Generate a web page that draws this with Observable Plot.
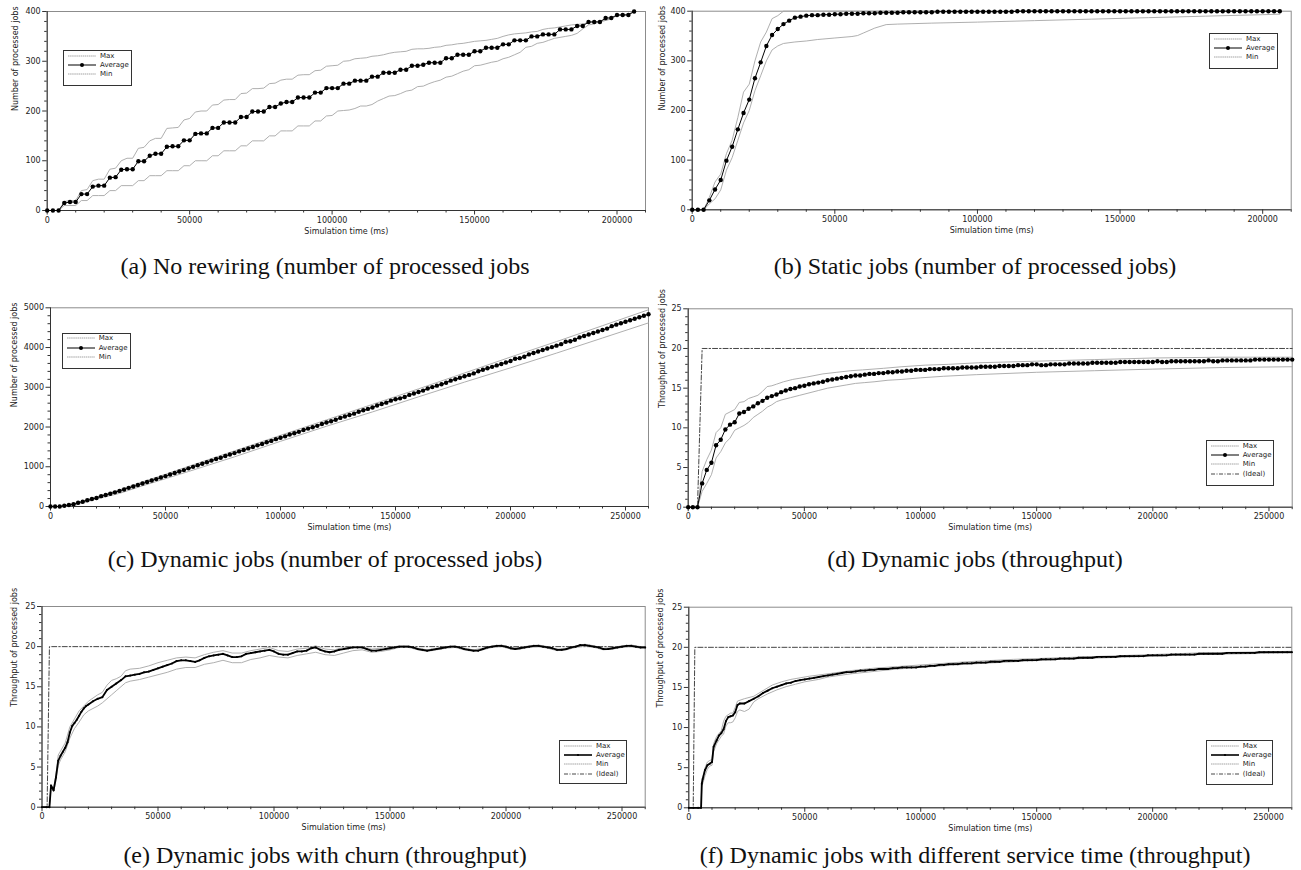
<!DOCTYPE html>
<html><head><meta charset="utf-8">
<script src="https://cdn.jsdelivr.net/npm/d3@7"></script>
<script src="https://cdn.jsdelivr.net/npm/@observablehq/plot@0.6"></script>
<style>
body{margin:0;background:#fff;}
#root{position:relative;width:1301px;height:870px;overflow:hidden;background:#fff;font-family:"DejaVu Sans",sans-serif;}
.panel{position:absolute;}
.cap{position:absolute;font-family:"Liberation Serif",serif;font-size:24px;white-space:nowrap;transform:translate(-50%,-50%);color:#111;line-height:1.1;}
.legend{position:absolute;border:1px solid #333;background:#fff;font-size:7px;color:#222;box-sizing:border-box;}
.legend .row{position:absolute;left:4px;height:8px;display:flex;align-items:center;}
.legend .row span{margin-left:4px;line-height:8px;}
</style></head><body><div id="root"></div><script>
// ---- data (t index step 2000 ms for regular arrays; pairs are [time in 1000 ms, value]) ----
const aAvg = [0,0,0,15,17,17,33,33,48,50, 50,66,67,82,83,83,99,99,110,114, 114,128,129,129,141,141,154,155,155,166,
  166,177,177,177,188,188,199,199,199,208, 208,215,218,218,227,227,227,237,237,246, 246,246,255,255,261,261,261,269,269,277,
  277,277,283,283,291,291,293,297,297,297, 306,306,313,313,313,320,320,327,327,327, 334,334,342,342,342,350,350,354,354,354,
  364,364,364,371,371,379,379,379,387,387, 393,393,393,400];
const aMax = [0,0,0,18,20,20,40,42,60,63, 63,83,85,100,105,105,125,127,140,145, 145,165,166,167,182,185,198,200,200,212,
  213,222,223,223,235,236,245,245,246,255, 256,262,264,264,272,273,273,281,282,290, 291,292,300,301,305,306,307,310,311,313,
  316,318,319,320,324,325,325,326,328,329, 332,333,335,336,338,340,341,342,344,346, 350,353,355,356,357,359,360,364,366,367,
  369,371,373,374,375,378,379,381,382,385, 392,393,394,400];
const aMin = [0,0,0,10,10,10,20,20,30,30, 30,40,40,50,50,50,60,60,70,70, 70,80,80,80,90,90,100,100,100,110,
  110,120,120,120,130,130,140,140,140,150, 150,160,160,160,170,170,170,180,180,190, 191,200,201,202,205,210,210,213,220,225,
  230,231,235,240,242,249,250,255,259,262, 268,270,275,280,283,291,292,295,298,300, 305,308,313,318,328,330,336,338,342,346,
  348,350,352,356,365,373,375,379,382,387, 392,393,395,400];

const bAvg = [0,0,0,19,41,60,99,127,162,195, 222,265,297,330,352,364,374,381,387,389, 391,392,392,393,393,394,394,395,395,395,
  396,396,396,397,397,397,397,398,398,398, 398,398,398,399,399,399,399,399,399,399, 399,399,399,399,399,399,399,400,400,400,
  400,400,400,400,400,400,400,400,400,400, 400,400,400,400,400,400,400,400,400,400, 400,400,400,400,400,400,400,400,400,400,
  400,400,400,400,400,400,400,400,400,400, 400,400,400,400];
const bMax = [[0,0],[4,0],[6,25],[8,56],[10,72],[12,113],[14,140],[16,186],[18,237],[20,253],[22,300],[24,338],[26,358],[28,385],[30,391],[32,400],[206,400]];
const bMin = [[0,0],[4,0],[6,12],[8,22],[10,40],[12,80],[14,105],[16,140],[18,175],[20,200],[22,240],[24,270],[26,300],[28,322],[30,330],[32,335],[36,338],[40,340],[44,343],[50,346],[56,349],[58,351],[60,356],[64,366],[68,373],[72,374],[84,376],[100,378],[120,381],[140,384],[160,387],[180,390],[200,393],[206,394]];

const cAvg = [0,0,0,18,38,56,94,119,157,187, 214,260,288,322,356,393,429,469,504,540, 580,617,656,690,730,765,806,842,879,916,
  960,998,1037,1076,1115,1155,1195,1228,1269,1310, 1344,1386,1420,1462,1496,1539,1573,1617,1651,1695,
  1730,1765,1810,1844,1879,1925,1960,1995,2030,2077, 2112,2147,2182,2230,2266,2301,2336,2385,2421,2456,
  2492,2542,2578,2613,2664,2700,2721,2757,2808,2844, 2880,2916,2968,3005,3041,3077,3113,3167,3203,3240,
  3276,3312,3349,3404,3440,3477,3514,3550,3587,3623, 3660,3717,3733,3770,3827,3864,3901,3938,3974,4011,
  4048,4085,4144,4158,4195,4255,4292,4329,4366,4403, 4440,4477,4538,4576,4613,4650,4687,4724,4762,4799, 4836];
const cMax = [[0,0],[4,0],[6,30],[10,70],[20,245],[30,420],[40,620],[50,810],[60,1010],[80,1400],[100,1790],[120,2180],[140,2570],[160,2960],[180,3360],[200,3760],[220,4150],[240,4550],[260,4950]];
const cMin = [[0,0],[6,0],[10,20],[20,190],[30,330],[40,520],[50,700],[60,880],[80,1250],[100,1640],[120,2020],[140,2380],[160,2760],[180,3130],[200,3490],[220,3860],[240,4240],[260,4620]];

const dAvg = [0,0,0,3.0,4.7,5.6,7.8,8.5,9.8,10.4, 10.7,11.8,12.0,12.4,12.7,13.1,13.4,13.8,14.0,14.2,
  14.5,14.7,14.9,15.0,15.2,15.3,15.5,15.6,15.7,15.8, 16.0,16.1,16.2,16.3,16.4,16.5,16.6,16.6,16.7,16.8,
  16.8,16.9,16.9,17.0,17.0,17.1,17.1,17.2,17.2,17.3, 17.3,17.3,17.4,17.4,17.4,17.5,17.5,17.5,17.5,17.6,
  17.6,17.6,17.6,17.7,17.7,17.7,17.7,17.8,17.8,17.8, 17.8,17.9,17.9,17.9,18.0,18.0,17.9,17.9,18.0,18.0,
  18.0,18.0,18.1,18.1,18.1,18.1,18.1,18.2,18.2,18.2, 18.2,18.2,18.2,18.3,18.3,18.3,18.3,18.3,18.3,18.3,
  18.3,18.4,18.3,18.3,18.4,18.4,18.4,18.4,18.4,18.4, 18.4,18.4,18.5,18.4,18.4,18.5,18.5,18.5,18.5,18.5,
  18.5,18.5,18.6,18.6,18.6,18.6,18.6,18.6,18.6,18.6, 18.6];
const dMax = [[0,0],[4,0],[6,4.5],[8,6.0],[10,7.2],[12,9.4],[14,10.0],[16,11.7],[18,12.0],[20,12.3],[22,13.2],[24,13.3],[26,13.7],[28,13.9],[30,14.1],[32,14.6],[34,15.2],[36,15.3],[38,15.5],[41,15.8],[45,16.1],[51,16.4],[58,16.8],[64,17.0],[70,17.2],[75,17.3],[84,17.5],[92,17.7],[102,17.9],[112,18.0],[125,18.2],[150,18.4],[175,18.6],[200,18.8],[230,18.9],[260,18.9]];
const dMin = [[0,0],[4,0],[6,2.0],[8,3.0],[10,4.1],[12,6.2],[14,7.0],[16,8.1],[18,8.7],[20,9.7],[22,10.0],[24,10.3],[26,10.7],[28,11.3],[30,11.7],[32,12.1],[34,12.6],[36,12.9],[38,13.3],[40,13.5],[44,13.8],[48,14.1],[52,14.4],[56,14.7],[60,15.0],[64,15.2],[68,15.4],[72,15.6],[76,15.7],[80,15.8],[86,16.0],[92,16.1],[100,16.3],[110,16.5],[124,16.7],[150,17.0],[175,17.2],[200,17.4],[230,17.6],[260,17.7]];
const dIdeal = [[0,0],[4,0],[6,20],[260,20]];

const eAvg = [[0,0],[2,0],[3.2,0],[3.9,2.7],[5,2.1],[6,3.7],[7,5.8],[8,6.4],[9,6.9],[10,7.4],[11,8.1],[12,9.3],[13,10.1],[14,10.5],[15,10.9],[16,11.4],[17,11.9],[18,12.3],[19,12.6],[20,12.8],[22,13.2],[24,13.5],[26,13.7],[28,14.6],[30,15.0],[32,15.4],[34,15.8],[36,16.3],[38,16.4],[40,16.5],[42,16.6],[44,16.8],[46,16.9],[48,17.1],[50,17.3],[52,17.5],[54,17.7],[56,17.9],[58,18.2],[60,18.3],[62,18.3],[64,18.2],[66,18.1],[68,18.3],[70,18.6],[72,18.8],[74,18.9],[76,19.0],[78,19.1],[80,18.9],[82,18.7],[84,18.7],[86,18.8],[88,19.1],[90,19.2],[92,19.3],[94,19.4],[96,19.5],[98,19.6],[100,19.4],[102,19.1],[104,19.0],[106,19.0],[108,19.2],[110,19.4],[112,19.4],[114,19.5],[116,19.8],[118,19.9],[120,19.6],[122,19.4],[124,19.3],[126,19.4],[128,19.6],[130,19.7],[132,19.8],[134,19.9],[136,19.9],[138,19.9],[140,19.7],[142,19.5],[144,19.5],[146,19.6],[148,19.7],[150,19.8],[152,19.9],[154,20.0],[156,20.0],[158,20.0],[160,19.9],[162,19.7],[164,19.6],[166,19.5],[168,19.6],[170,19.7],[172,19.8],[174,19.9],[176,20.0],[178,20.0],[180,19.9],[182,19.7],[184,19.6],[186,19.5],[188,19.5],[190,19.7],[192,19.9],[194,20.0],[196,20.1],[198,20.1],[200,20.0],[202,19.8],[204,19.7],[206,19.8],[208,19.9],[210,20.0],[212,20.1],[214,20.1],[216,20.0],[218,19.9],[220,19.8],[222,19.6],[224,19.6],[226,19.7],[228,19.9],[230,20.0],[232,20.2],[234,20.2],[236,20.1],[238,20.0],[240,19.9],[242,19.7],[244,19.7],[246,19.8],[248,19.9],[250,20.0],[252,20.1],[254,20.1],[256,20.0],[258,19.9],[260,19.9]];
const eMax = [[0,0],[3.2,0],[3.9,2.8],[5,2.3],[6,4.0],[7,6.5],[8,7.0],[10,8.0],[12,10.0],[14,11.0],[16,12.0],[18,12.6],[20,13.2],[24,14.0],[26,14.3],[28,15.2],[30,15.8],[32,16.0],[34,16.3],[36,17.0],[38,17.2],[42,17.3],[46,17.6],[50,18.0],[54,18.3],[58,18.6],[62,18.7],[66,18.6],[70,19.0],[74,19.3],[78,19.5],[82,19.2],[86,19.2],[90,19.5],[94,19.7],[98,19.9],[102,19.5],[106,19.4],[110,19.7],[114,19.8],[118,20.1],[122,19.7],[126,19.6],[130,19.9],[134,20.0],[138,20.0],[142,19.7],[146,19.8],[150,19.9],[154,20.1],[158,20.1],[162,19.8],[166,19.6],[170,19.8],[174,20.0],[178,20.1],[182,19.8],[186,19.6],[190,19.8],[194,20.1],[198,20.2],[202,19.9],[206,19.9],[210,20.1],[214,20.2],[218,20.0],[222,19.7],[226,19.8],[230,20.1],[234,20.3],[238,20.1],[242,19.8],[246,19.9],[250,20.1],[254,20.2],[258,20.0],[260,20.0]];
const eMin = [[0,0],[3.2,0],[3.9,2.5],[5,1.9],[6,3.3],[7,5.2],[8,5.9],[10,6.9],[12,8.6],[14,9.8],[16,10.6],[18,11.5],[20,12.0],[24,12.6],[26,13.0],[28,13.5],[30,14.0],[32,14.5],[34,15.0],[36,15.5],[38,15.7],[42,15.9],[46,16.2],[50,16.5],[54,16.8],[58,17.2],[62,17.4],[66,17.4],[70,17.8],[74,18.0],[78,18.3],[82,18.0],[86,18.0],[90,18.4],[94,18.6],[98,18.9],[102,18.7],[106,18.6],[110,18.9],[114,19.1],[118,19.3],[122,19.0],[126,18.9],[130,19.2],[134,19.5],[138,19.6],[142,19.3],[146,19.4],[150,19.6],[154,19.9],[158,19.9],[162,19.6],[166,19.4],[170,19.6],[174,19.8],[178,19.9],[182,19.6],[186,19.4],[190,19.6],[194,19.9],[198,20.0],[202,19.7],[206,19.7],[210,19.9],[214,20.0],[218,19.8],[222,19.5],[226,19.6],[230,19.9],[234,20.1],[238,19.9],[242,19.6],[246,19.7],[250,19.9],[254,20.0],[258,19.8],[260,19.8]];
const eIdeal = [[0,0],[2.2,0],[3.2,20],[260,20]];

const fAvg = [[0,0],[2,0],[4,0],[5.3,0],[5.6,3.0],[6,3.6],[7,4.7],[8,5.3],[9,5.5],[10,5.7],[10.7,7.6],[12,8.4],[13,9.0],[14,9.3],[15,9.8],[16,10.8],[17,11.3],[18,11.4],[19,11.5],[20,11.9],[21,12.8],[22,13.0],[24,13.0],[26,13.3],[28,13.6],[30,13.9],[32,14.3],[34,14.6],[36,14.9],[38,15.1],[40,15.3],[42,15.5],[44,15.6],[46,15.8],[48,15.9],[50,16.0],[52,16.1],[54,16.2],[56,16.3],[58,16.4],[60,16.5],[62,16.6],[64,16.7],[66,16.8],[68,16.9],[70,16.9],[72,17.0],[74,17.1],[76,17.1],[78,17.2],[80,17.2],[82,17.3],[84,17.3],[86,17.3],[88,17.4],[90,17.4],[92,17.5],[94,17.5],[96,17.5],[98,17.5],[100,17.6],[102,17.6],[104,17.7],[106,17.7],[108,17.8],[110,17.8],[112,17.9],[114,17.9],[116,17.9],[118,18.0],[120,18.0],[122,18.0],[124,18.1],[126,18.1],[128,18.1],[130,18.2],[132,18.2],[134,18.2],[136,18.3],[138,18.3],[140,18.3],[142,18.3],[144,18.4],[146,18.4],[148,18.4],[150,18.4],[152,18.5],[154,18.5],[156,18.5],[158,18.5],[160,18.6],[162,18.6],[164,18.6],[166,18.6],[168,18.7],[170,18.7],[172,18.7],[174,18.7],[176,18.8],[178,18.8],[180,18.8],[182,18.8],[184,18.8],[186,18.9],[188,18.9],[190,18.9],[192,18.9],[194,18.9],[196,18.9],[198,19.0],[200,19.0],[202,19.0],[204,19.0],[206,19.0],[208,19.1],[210,19.1],[212,19.1],[214,19.1],[216,19.1],[218,19.1],[220,19.2],[222,19.2],[224,19.2],[226,19.2],[228,19.2],[230,19.2],[232,19.3],[234,19.3],[236,19.3],[238,19.3],[240,19.3],[242,19.3],[244,19.3],[246,19.4],[248,19.4],[250,19.4],[252,19.4],[254,19.4],[256,19.4],[258,19.4],[260,19.4]];
const fMax = [[0,0],[5.3,0],[5.6,3.3],[7,5.0],[8,5.7],[9,5.9],[10,6.0],[10.7,8.0],[12,8.9],[14,9.6],[15,10.8],[16,11.4],[18,11.8],[19,11.8],[20,12.5],[21,13.3],[24,13.6],[28,13.9],[32,14.6],[36,15.3],[40,15.7],[44,16.0],[48,16.2],[52,16.4],[60,16.7],[70,17.1],[80,17.4],[90,17.6],[100,17.8],[120,18.2],[140,18.5],[160,18.7],[180,18.9],[200,19.1],[220,19.3],[240,19.4],[260,19.5]];
const fMin = [[0,0],[5.3,0],[5.6,2.6],[7,4.0],[8,4.8],[9,5.2],[10,5.3],[10.7,7.0],[12,8.0],[14,8.9],[15,9.2],[16,10.2],[17,10.6],[18,10.6],[19,10.7],[20,11.2],[21,12.0],[22,12.2],[24,12.0],[26,12.3],[28,13.2],[30,13.6],[34,14.2],[38,14.7],[42,15.1],[46,15.4],[50,15.7],[56,16.0],[60,16.3],[70,16.7],[80,17.0],[90,17.3],[100,17.5],[120,17.9],[140,18.2],[160,18.5],[180,18.7],[200,18.9],[220,19.1],[240,19.2],[260,19.3]];
const fIdeal = [[0,0],[1.9,0],[2.6,20],[260,20]];

const captions = ["(a) No rewiring (number of processed jobs", "(b) Static jobs (number of processed jobs)",
  "(c) Dynamic jobs (number of processed jobs)", "(d) Dynamic jobs (throughput)",
  "(e) Dynamic jobs with churn (throughput)", "(f) Dynamic jobs with different service time (throughput)"];
const xLabel = "Simulation time (ms)";
const yLabelJobs = "Number of processed jobs";
const yLabelThr = "Throughput of processed jobs";
const legendNames3 = ["Max", "Average", "Min"];
const legendNames4 = ["Max", "Average", "Min", "(Ideal)"];

// ---- helpers ----
const reg = arr => arr.map((v, i) => ({t: i * 2000, v}));
const pairs = arr => arr.map(([k, v]) => ({t: k * 1000, v}));

const root = document.getElementById("root");

const panels = [
  {left:0, top:0, w:650, h:245, x0:46.7, x1:645, y0:11, y1:210, xMax:210000, yMax:400, yStep:100, yMinor:20, ylabel:yLabelJobs, ylabX:15,
   max:reg(aMax), min:reg(aMin), avg:reg(aAvg), cap:[0, 325, 266],
   legend:{x:63, y:50, w:69, h:36, names:legendNames3}},
  {left:650, top:0, w:651, h:245, x0:691.7, x1:1290.7, y0:10.7, y1:209.3, xMax:210000, yMax:400, yStep:100, yMinor:20, ylabel:yLabelJobs, ylabX:661.7,
   max:pairs(bMax), min:pairs(bMin), avg:reg(bAvg), cap:[1, 975, 266],
   legend:{x:1209, y:33, w:69, h:36, names:legendNames3}},
  {left:0, top:280, w:650, h:255, x0:50, x1:648, y0:307.3, y1:506, xMax:260000, yMax:5000, yStep:1000, yMinor:200, ylabel:yLabelJobs, ylabX:14,
   max:pairs(cMax), min:pairs(cMin), avg:reg(cAvg), cap:[2, 325, 559],
   legend:{x:61.7, y:332.7, w:69, h:36.6, names:legendNames3}},
  {left:650, top:280, w:651, h:255, x0:687.7, x1:1291.7, y0:308.3, y1:506.7, xMax:260000, yMax:25, yStep:5, yMinor:1, ylabel:yLabelThr, ylabX:661.7,
   max:pairs(dMax), min:pairs(dMin), avg:reg(dAvg), ideal:pairs(dIdeal), cap:[3, 975, 559],
   legend:{x:1205.7, y:440, w:68.3, h:46, names:legendNames4}},
  {left:0, top:580, w:650, h:260, x0:41.5, x1:644.7, y0:606, y1:806.7, xMax:260000, yMax:25, yStep:5, yMinor:1, ylabel:yLabelThr, ylabX:14,
   max:pairs(eMax), min:pairs(eMin), avg:pairs(eAvg), ideal:pairs(eIdeal), thick:true, cap:[4, 325, 855],
   legend:{x:559, y:740, w:67.7, h:44.3, names:legendNames4}},
  {left:650, top:580, w:651, h:260, x0:688.3, x1:1291.3, y0:606.7, y1:807.3, xMax:260000, yMax:25, yStep:5, yMinor:1, ylabel:yLabelThr, ylabX:660,
   max:pairs(fMax), min:pairs(fMin), avg:pairs(fAvg), ideal:pairs(fIdeal), thick:true, cap:[5, 975, 855],
   legend:{x:1205.7, y:740, w:67.6, h:45, names:legendNames4}},
];

const fmt = d3.format("d");

for (const p of panels) {
  const xMajor = d3.range(0, p.xMax + 1, 50000);
  const xMinor = d3.range(0, p.xMax + 1, 10000).filter(d => d % 50000 !== 0);
  const nY = Math.round(p.yMax / p.yMinor);
  const yAll = d3.range(0, nY + 1).map(i => i * p.yMinor);
  const yMajor = yAll.filter(d => Math.abs(d / p.yStep - Math.round(d / p.yStep)) < 1e-6);
  const yMinor = yAll.filter(d => Math.abs(d / p.yStep - Math.round(d / p.yStep)) >= 1e-6);
  const marks = [
    Plot.frame({stroke: "#8c8c8c", strokeWidth: 1}),
    Plot.axisX(xMinor, {tickSize: 2.5, tickFormat: () => "", label: null, stroke: "#333"}),
    Plot.axisX(xMajor, {tickSize: 4.5, tickPadding: 2, tickFormat: fmt, label: null, stroke: "#333", fill: "#222"}),
    Plot.axisY(yMinor, {tickSize: 2.5, tickFormat: () => "", label: null, stroke: "#333"}),
    Plot.axisY(yMajor, {tickSize: 4.5, tickPadding: 2, tickFormat: fmt, label: null, stroke: "#333", fill: "#222"}),
    Plot.ruleY([0], {stroke: "#333"}),
    Plot.ruleX([0], {stroke: "#333"}),
    Plot.text([xLabel], {frameAnchor: "bottom", dy: 23, fontSize: 8, fill: "#222"}),
    Plot.text([p.ylabel], {frameAnchor: "left", dx: p.ylabX - p.x0, rotate: -90, fontSize: 8, fill: "#222"})
  ];
  if (p.ideal) marks.push(Plot.line(p.ideal, {x: "t", y: "v", stroke: "#444", strokeWidth: 1, strokeDasharray: "5,2,1.5,2"}));
  marks.push(Plot.line(p.max, {x: "t", y: "v", stroke: "#a6a6a6", strokeWidth: 0.9}));
  marks.push(Plot.line(p.min, {x: "t", y: "v", stroke: "#a6a6a6", strokeWidth: 0.9}));
  marks.push(Plot.line(p.avg, {x: "t", y: "v", stroke: "#000", strokeWidth: p.thick ? 1.8 : 1}));
  marks.push(Plot.dot(p.avg, {x: "t", y: "v", fill: "#000", r: p.thick ? 1 : 2.2, stroke: "none"}));

  const svg = Plot.plot({
    width: p.w, height: p.h,
    marginLeft: p.x0 - p.left, marginRight: p.left + p.w - p.x1,
    marginTop: p.y0 - p.top, marginBottom: p.top + p.h - p.y1,
    x: {domain: [0, p.xMax]},
    y: {domain: [0, p.yMax]},
    style: {fontFamily: "DejaVu Sans, sans-serif", fontSize: "8px", background: "transparent", overflow: "visible"},
    marks
  });
  const div = document.createElement("div");
  div.className = "panel";
  div.style.left = p.left + "px";
  div.style.top = p.top + "px";
  div.appendChild(svg);
  root.appendChild(div);

  // caption
  const cap = document.createElement("div");
  cap.className = "cap";
  cap.textContent = captions[p.cap[0]];
  cap.style.left = p.cap[1] + "px";
  cap.style.top = p.cap[2] + "px";
  root.appendChild(cap);

  // legend
  const L = p.legend;
  const lg = document.createElement("div");
  lg.className = "legend";
  lg.style.left = L.x + "px"; lg.style.top = L.y + "px";
  lg.style.width = L.w + "px"; lg.style.height = L.h + "px";
  L.names.forEach((name, i) => {
    const row = document.createElement("div");
    row.className = "row";
    row.style.top = (4.7 + i * 9.3 - 4) + "px";
    let sample;
    if (name === "Average") {
      sample = p.thick
        ? `<line x1="0" y1="4" x2="28" y2="4" stroke="#000" stroke-width="1.6"/><circle cx="14" cy="4" r="1.1" fill="#000"/>`
        : `<line x1="0" y1="4" x2="28" y2="4" stroke="#000" stroke-width="1"/><circle cx="14" cy="4" r="2" fill="#000"/>`;
    } else if (name === "(Ideal)") {
      sample = `<line x1="0" y1="4" x2="28" y2="4" stroke="#333" stroke-width="0.9" stroke-dasharray="4,1.5,1,1.5"/>`;
    } else {
      sample = `<line x1="0" y1="4" x2="28" y2="4" stroke="#999" stroke-width="0.9" stroke-dasharray="1.5,0.6"/>`;
    }
    row.innerHTML = `<svg width="28" height="8" style="display:block">${sample}</svg><span>${name}</span>`;
    lg.appendChild(row);
  });
  root.appendChild(lg);
}
</script></body></html>
